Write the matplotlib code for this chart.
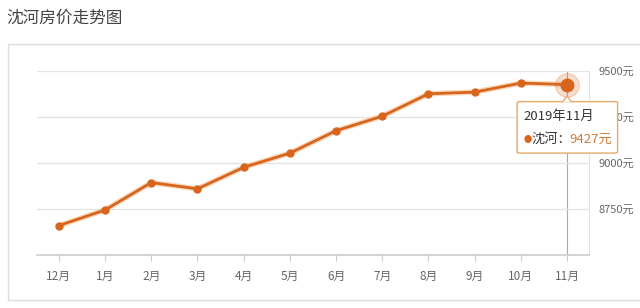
import matplotlib
matplotlib.use('Agg')
import matplotlib.pyplot as plt
from matplotlib.patches import FancyBboxPatch, Rectangle, Polygon

plt.rcParams['font.family'] = ['Noto Sans CJK SC', 'DejaVu Sans']

months = ['12月', '1月', '2月', '3月', '4月', '5月', '6月', '7月', '8月', '9月', '10月', '11月']
prices = [8660, 8745, 8894, 8860, 8977, 9054, 9176, 9255, 9377, 9386, 9435, 9427]
yticks = [8750, 9000, 9250, 9500]
tip_title = '2019年11月'
tip_name = '沈河'

orange = '#d8651d'
grey_txt = '#666666'

fig = plt.figure(figsize=(6.4, 3.08), dpi=100)
fig.text(0.010, 0.942, '沈河房价走势图', fontsize=12, color='#444444', va='center')

# card frame
fig.patches.append(Rectangle((0.013, 0.025), 1.2, 0.832, transform=fig.transFigure,
                             fill=False, edgecolor='#dddddd', lw=1))

ax = fig.add_axes([0.058, 0.172, 0.862, 0.597])
x = list(range(len(months)))
ax.plot(x, prices, color='#f3b27a', lw=4, alpha=0.5, zorder=2)
ax.plot(x, prices, color=orange, lw=2, marker='o', ms=5, zorder=3)
ax.plot(x[-1], prices[-1], 'o', color=orange, ms=17, alpha=0.22, zorder=4)
ax.plot(x[-1], prices[-1], 'o', color=orange, ms=9, zorder=5)
ax.axvline(x[-1], color='#aaaaaa', lw=0.8, zorder=1)

ax.set_xlim(-0.47, 11.47)
ax.set_ylim(8500, 9500)
ax.set_yticks(yticks)
ax.set_yticklabels([f'{v}元' for v in yticks])
ax.yaxis.tick_right()
ax.set_xticks(x)
ax.set_xticklabels(months)
ax.tick_params(axis='y', length=0, labelsize=8, labelcolor=grey_txt, pad=7)
ax.tick_params(axis='x', length=4, color='#cccccc', labelsize=8.5, labelcolor=grey_txt, pad=7)
ax.grid(axis='y', color='#e3e3e3', lw=0.9)
for s in ['left', 'top']:
    ax.spines[s].set_visible(False)
ax.spines['right'].set_color('#e3e3e3')
ax.spines['bottom'].set_color('#cccccc')
ax.spines['bottom'].set_linewidth(1.2)

# tooltip
tip = FancyBboxPatch((0.808, 0.503), 0.157, 0.167, transform=fig.transFigure,
                     boxstyle='round,pad=0,rounding_size=0.004', facecolor='white',
                     edgecolor='#e8a76c', lw=1, zorder=10)
fig.patches.append(tip)
arrow = Polygon([(0.879, 0.669), (0.886, 0.688), (0.893, 0.669)], closed=False,
                transform=fig.transFigure, facecolor='white', edgecolor='#e8a76c', lw=1, zorder=11)
fig.patches.append(arrow)
fig.text(0.818, 0.621, tip_title, fontsize=9.5, color='#333333', va='center', zorder=12)
fig.text(0.818, 0.547, '●', fontsize=6, color=orange, va='center', zorder=12)
fig.text(0.830, 0.547, tip_name + '：', fontsize=9.5, color='#333333', va='center', zorder=12)
fig.text(0.890, 0.547, f'{prices[-1]}元', fontsize=9.5, color='#d07a3a', va='center', zorder=12)

fig.savefig('out.png', dpi=100)
